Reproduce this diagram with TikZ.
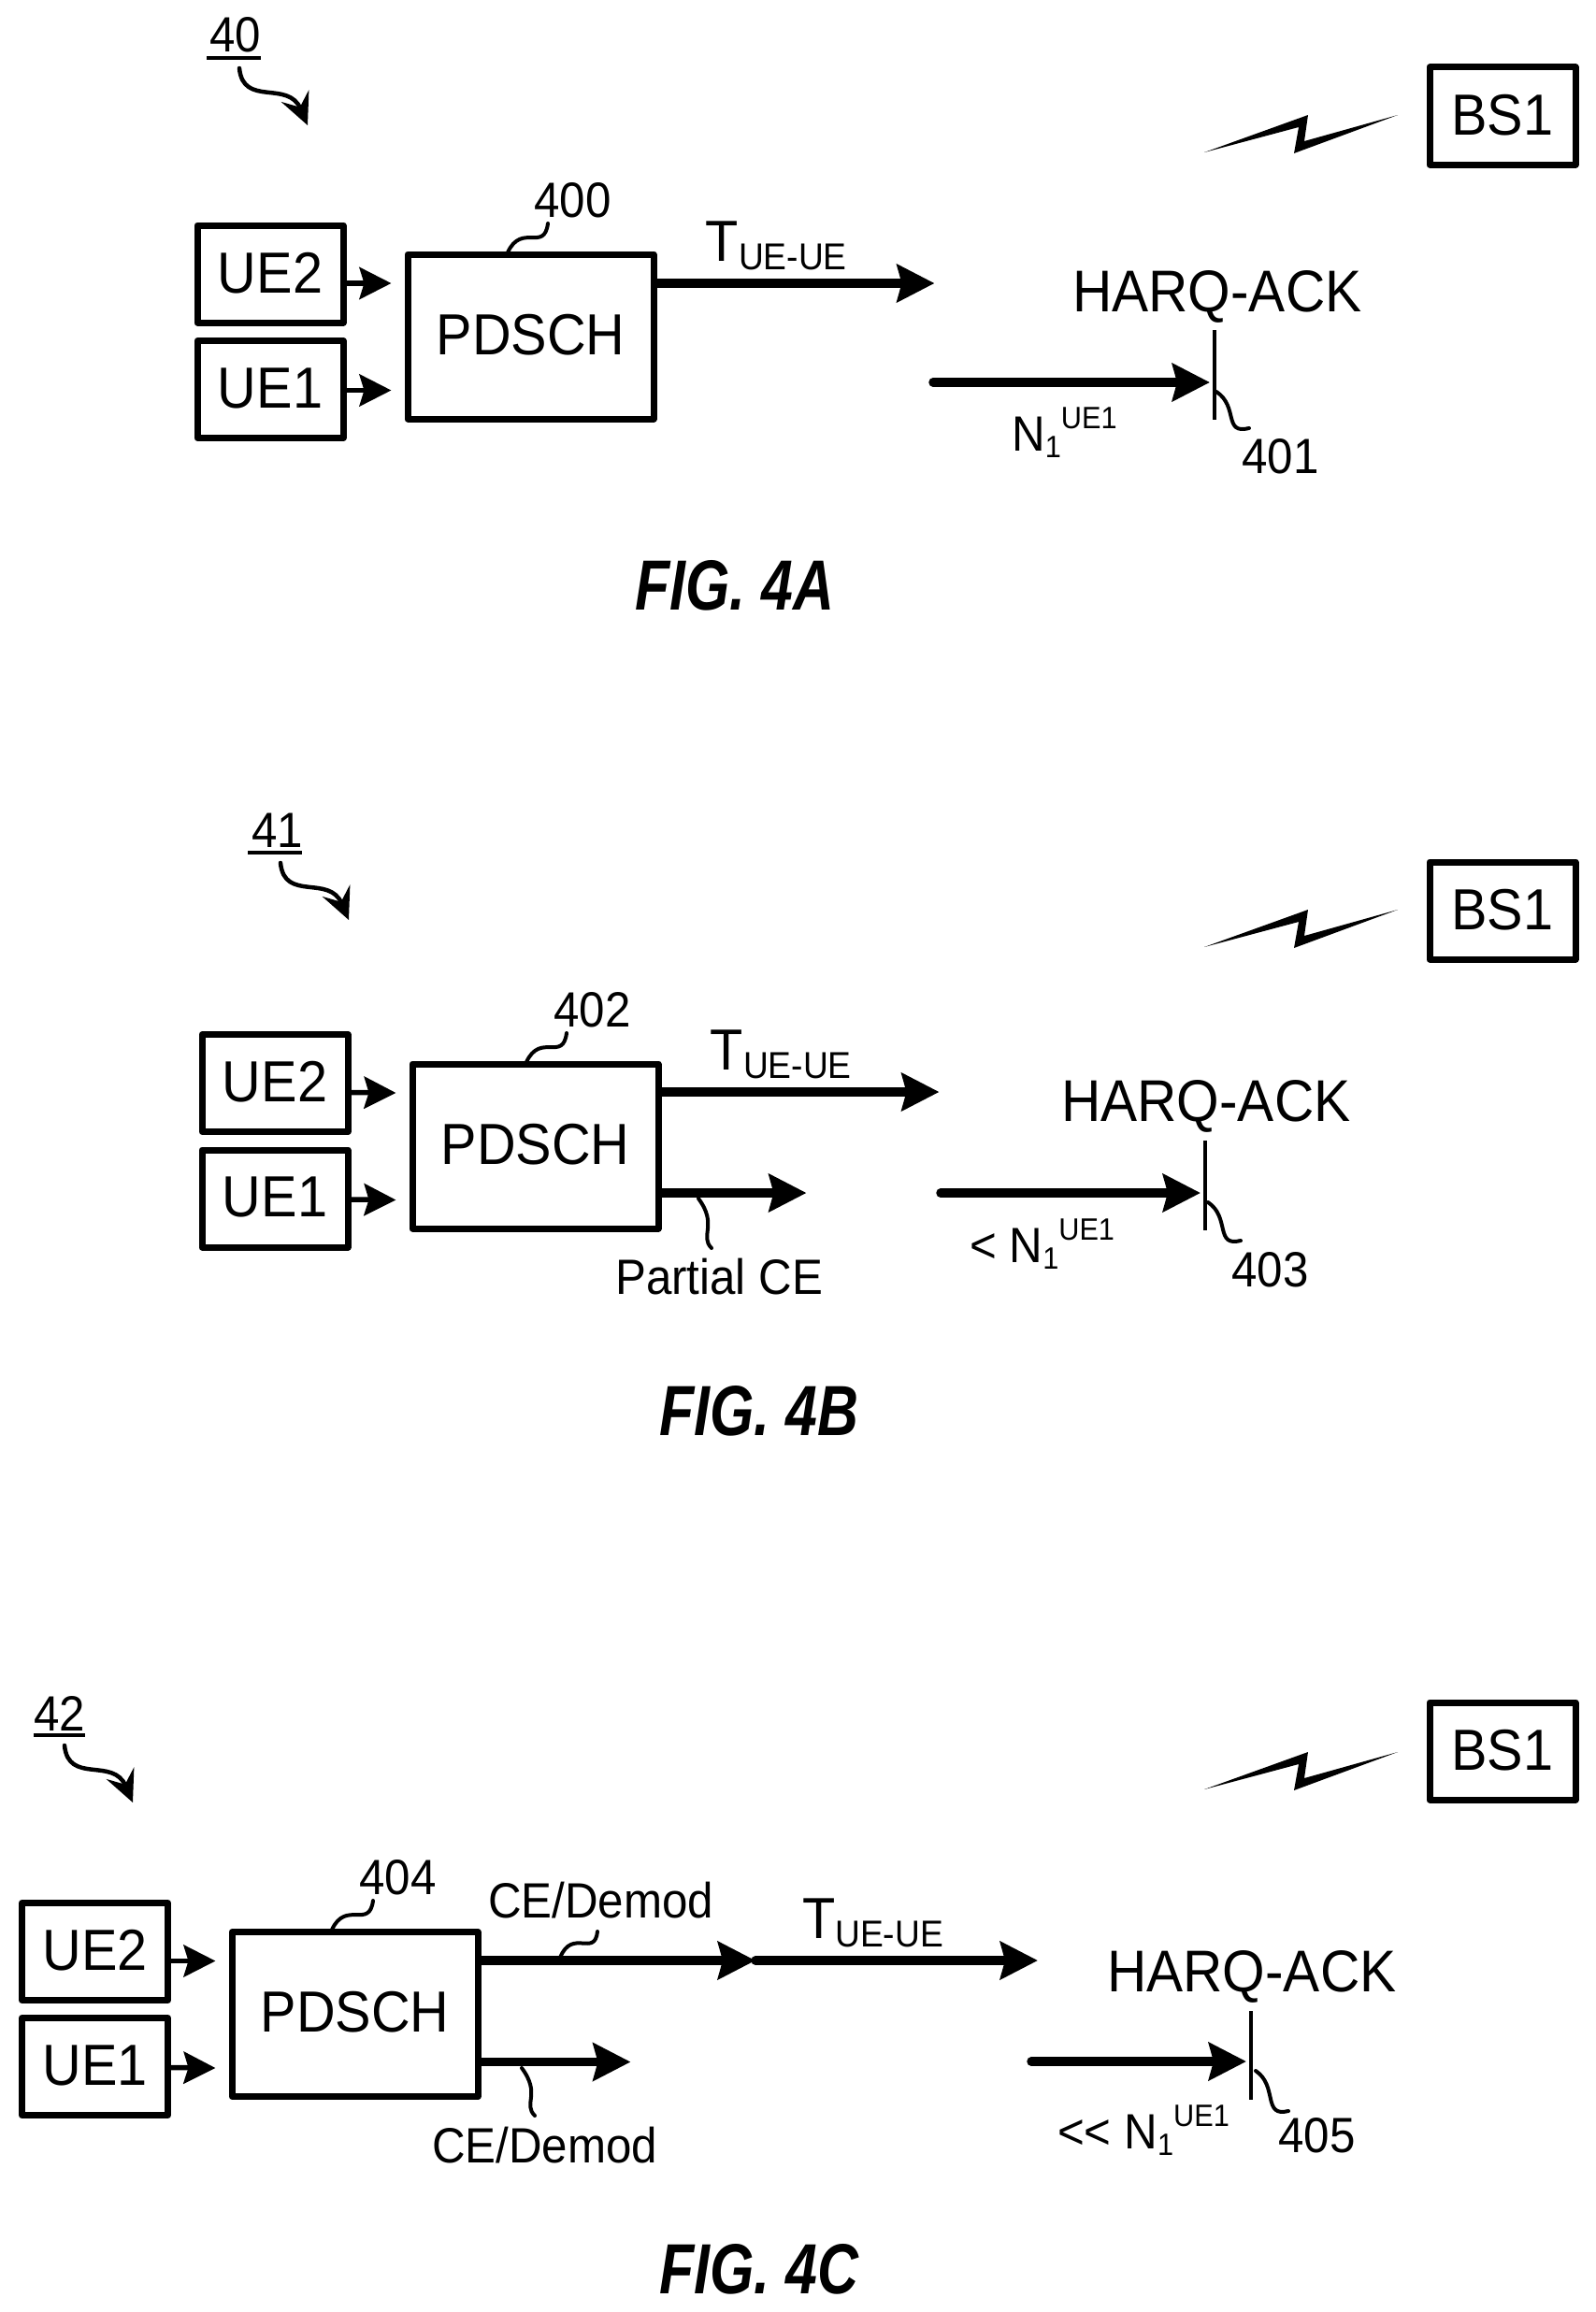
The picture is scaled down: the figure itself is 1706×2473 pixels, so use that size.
\documentclass[tikz,border=0pt]{standalone}
\usepackage{fontspec}
\setmainfont[FakeStretch=0.93]{Liberation Sans}
\newfontfamily\figfont[FakeStretch=0.80]{Liberation Sans}
\usetikzlibrary{calc, arrows.meta}
\newcommand{\nue}{N\raisebox{-7pt}{\fontsize{33}{33}\selectfont 1}\raisebox{24pt}{\fontsize{33}{33}\selectfont UE1}}
\newcommand{\tue}{\fontsize{62}{62}\selectfont T\raisebox{-9pt}{\fontsize{40}{40}\selectfont UE-UE}}

\begin{document}
\begin{tikzpicture}[
    x=1pt, y=-1pt,
    line join=round,
    ue node/.style={draw, line width=7pt, minimum width=156pt, minimum height=104pt, inner sep=0pt, text depth=3pt, font=\fontsize{62}{62}\selectfont},
    pdsch node/.style={ue node, minimum width=263pt, minimum height=176pt, text depth=5pt},
    label node/.style={inner sep=0pt, anchor=base west, font=\fontsize{53}{53}\selectfont},
    harq node/.style={label node, font=\fontsize{63}{63}\selectfont},
    fig node/.style={inner sep=0pt, anchor=base west, font=\figfont\bfseries\itshape\fontsize{76}{76}\selectfont},
    arrow/.style={-{Stealth[length=40pt,width=40pt,inset=5pt]}, line width=9.5pt, line cap=round},
    small arrow/.style={-{Stealth[length=34pt,width=34pt,inset=5pt]}, line width=5.5pt},
    leader/.style={line width=4pt, line cap=round},
    rule/.style={line width=4pt},
    curl/.style={-{Stealth[length=34pt,width=32pt,inset=13pt]}, line width=4.5pt, line cap=round},
    tick/.style={line width=4pt}
]
\useasboundingbox (0,0) rectangle (1706,2473);

% FIG. 4A
\node[label node] (n40) at (224,56) {40};
\draw[rule] (221,62) -- (279,62);
\draw[curl] (256,73) .. controls (260,115) and (308,85) .. (329,134);
\node[ue node] (bsa) at (1607,124) {BS1};
\fill (1288,163) -- (1399,123) -- (1395,151) -- (1495,123) -- (1384,164) -- (1389,136) -- cycle;
\node[ue node] (ue2a) at (289,293) {UE2};
\node[ue node] (ue1a) at (289,416.5) {UE1};
\node[pdsch node] (pdscha) at (567.5,360) {PDSCH};
\node[label node] (n400) at (571,232) {400};
\draw[leader] (543,270) .. controls (558,238) and (582,270) .. (586,239);
\draw[small arrow] ($(ue2a.east)+(0,10)$) -- ($(pdscha.west)+(-14,-57)$);
\draw[small arrow] ($(ue1a.east)+(0,1)$) -- ($(pdscha.west)+(-14,57.5)$);
\draw[arrow] ($(pdscha.east)+(0,-57)$) -- node[label node, anchor=base west, pos=0.16, yshift=24pt] {\tue} ($(pdscha.east)+(297,-57)$);
\node[harq node] (acka) at (1147,333) {HARQ-ACK};
\coordinate (ticka) at (1299,409);
\draw[tick] (1299,353) -- (1299,449);
\draw[arrow] (998,409) -- ([xshift=-5pt]ticka);
\node[label node] (na) at (1082,482) {\nue};
\node[label node] (n401) at (1328,506) {401};
\draw[leader] (1301,419) .. controls (1325,435) and (1308,465) .. (1336,458);
\node[fig node] (figa) at (679,652) {FIG. 4A};

% FIG. 4B
\node[label node] (n41) at (269,906) {41};
\draw[rule] (265,912) -- (323,912);
\draw[curl] (300,923) .. controls (304,965) and (352,935) .. (373,984);
\node[ue node] (bsb) at (1607,974) {BS1};
\fill (1288,1013) -- (1399,973) -- (1395,1001) -- (1495,973) -- (1384,1014) -- (1389,986) -- cycle;
\node[ue node] (ue2b) at (294,1158.5) {UE2};
\node[ue node] (ue1b) at (294,1282) {UE1};
\node[pdsch node] (pdschb) at (572.5,1226) {PDSCH};
\node[label node] (n402) at (592,1098) {402};
\draw[leader] (563,1136) .. controls (578,1104) and (602,1136) .. (606,1105);
\draw[small arrow] ($(ue2b.east)+(0,10)$) -- ($(pdschb.west)+(-14,-57)$);
\draw[small arrow] ($(ue1b.east)+(0,1)$) -- ($(pdschb.west)+(-14,57.5)$);
\draw[arrow] ($(pdschb.east)+(0,-58)$) -- node[label node, anchor=base west, pos=0.16, yshift=24pt] {\tue} ($(pdschb.east)+(297,-58)$);
\draw[arrow] ($(pdschb.east)+(0,50)$) -- ($(pdschb.east)+(155,50)$);
\node[label node] (ceb) at (658,1384) {Partial CE};
\draw[leader] (747,1282) .. controls (768,1310) and (748,1322) .. (761,1335);
\node[harq node] (ackb) at (1135,1199) {HARQ-ACK};
\coordinate (tickb) at (1289,1276);
\draw[tick] (1289,1220) -- (1289,1316);
\draw[arrow] (1006,1276) -- ([xshift=-5pt]tickb);
\node[label node] (nb) at (1037,1350) {< \nue};
\node[label node] (n403) at (1317,1376) {403};
\draw[leader] (1292,1286) .. controls (1316,1302) and (1299,1334) .. (1327,1327);
\node[fig node] (figb) at (705,1535) {FIG. 4B};

% FIG. 4C
\node[label node] (n42) at (36,1851) {42};
\draw[rule] (36,1856) -- (91,1856);
\draw[curl] (69,1867) .. controls (73,1909) and (121,1879) .. (142,1928);
\node[ue node] (bsc) at (1607,1873) {BS1};
\fill (1288,1914) -- (1399,1874) -- (1395,1902) -- (1495,1874) -- (1384,1915) -- (1389,1887) -- cycle;
\node[ue node] (ue2c) at (101.5,2087.5) {UE2};
\node[ue node] (ue1c) at (101.5,2210.5) {UE1};
\node[pdsch node] (pdschc) at (379.5,2154.5) {PDSCH};
\node[label node] (n404) at (384,2026) {404};
\draw[leader] (355,2064) .. controls (370,2032) and (395,2064) .. (399,2033);
\draw[small arrow] ($(ue2c.east)+(0,10)$) -- ($(pdschc.west)+(-14,-57)$);
\draw[small arrow] ($(ue1c.east)+(0,1)$) -- ($(pdschc.west)+(-14,57.5)$);
\coordinate (midc) at (808,2097);
\draw[arrow] (pdschc.east |- midc) -- (midc);
\draw[arrow] (midc) -- node[label node, anchor=base west, pos=0.15, yshift=24pt] {\tue} ($(midc)+(302,0)$);
\draw[arrow] ($(pdschc.east)+(0,51)$) -- ($(pdschc.east)+(160,51)$);
\node[label node] (ceu) at (522,2051) {CE/Demod};
\draw[leader] (599,2094) .. controls (612,2062) and (636,2094) .. (639,2066);
\node[label node] (cel) at (462,2313) {CE/Demod};
\draw[leader] (558,2212) .. controls (579,2240) and (559,2250) .. (572,2263);
\node[harq node] (ackc) at (1184,2130) {HARQ-ACK};
\coordinate (tickc) at (1338,2205);
\draw[tick] (1338,2151) -- (1338,2246);
\draw[arrow] (1103,2205) -- ([xshift=-5pt]tickc);
\node[label node] (nc) at (1131,2298) {<{}< \nue};
\node[label node] (n405) at (1367,2302) {405};
\draw[leader] (1343,2215) .. controls (1367,2231) and (1350,2265) .. (1378,2258);
\node[fig node] (figc) at (705,2453) {FIG. 4C};
\end{tikzpicture}
\end{document}
